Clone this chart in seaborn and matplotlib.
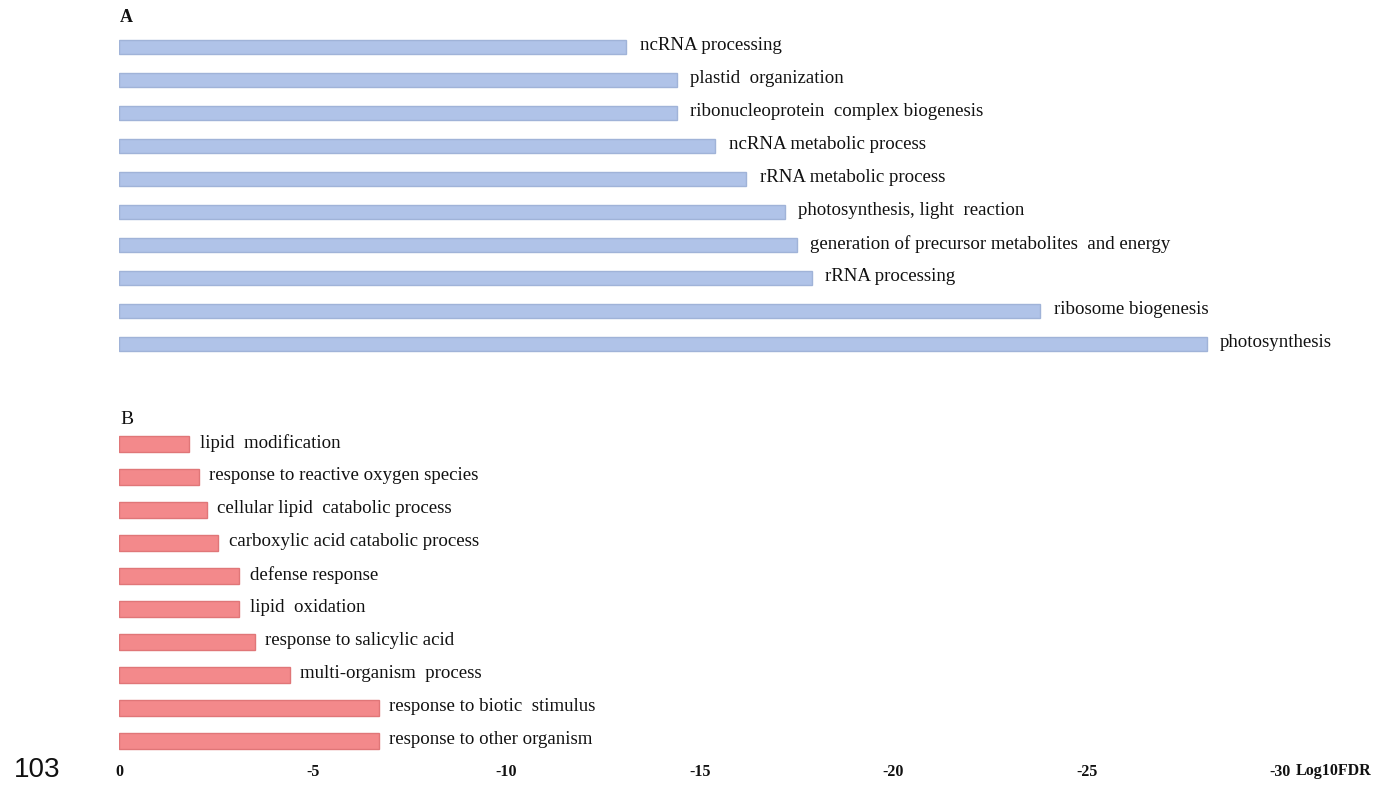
import matplotlib
matplotlib.use("Agg")
import matplotlib.pyplot as plt
import seaborn as sns
import pandas as pd
from matplotlib.ticker import FixedLocator, FixedFormatter

# Panel A: enriched GO terms (log10 FDR)
terms_a = [
    "ncRNA processing",
    "plastid  organization",
    "ribonucleoprotein  complex biogenesis",
    "ncRNA metabolic process",
    "rRNA metabolic process",
    "photosynthesis, light  reaction",
    "generation of precursor metabolites  and energy",
    "rRNA processing",
    "ribosome biogenesis",
    "photosynthesis",
]
fdr_a = [-13.1, -14.4, -14.4, -15.4, -16.2, -17.2, -17.5, -17.9, -23.8, -28.1]

# Panel B: enriched GO terms (log10 FDR)
terms_b = [
    "lipid  modification",
    "response to reactive oxygen species",
    "cellular lipid  catabolic process",
    "carboxylic acid catabolic process",
    "defense response",
    "lipid  oxidation",
    "response to salicylic acid",
    "multi-organism  process",
    "response to biotic  stimulus",
    "response to other organism",
]
fdr_b = [-1.8, -2.05, -2.25, -2.55, -3.1, -3.1, -3.5, -4.4, -6.7, -6.7]

tick_values = [0, -5, -10, -15, -20, -25, -30]
tick_labels = ["0", "-5", "-10", "-15", "-20", "-25", "-30"]

sns.set_theme(style="white")
plt.rcParams["font.family"] = ["Liberation Serif", "DejaVu Serif"]

fig = plt.figure(figsize=(13.81, 7.85), dpi=100)
ax_a = fig.add_axes([0.0865, 0.5408, 0.8687, 0.4204])
ax_b = fig.add_axes([0.0865, 0.0350, 0.8687, 0.4204])

df_a = pd.DataFrame({"term": terms_a, "fdr": fdr_a})
df_b = pd.DataFrame({"term": terms_b, "fdr": fdr_b})

sns.barplot(data=df_a, x="fdr", y="term", orient="h", ax=ax_a,
            color="#B0C3E8", saturation=1, width=0.40,
            edgecolor="#A0B3D8", linewidth=1.0)
sns.barplot(data=df_b, x="fdr", y="term", orient="h", ax=ax_b,
            color="#F3898B", saturation=1, width=0.48,
            edgecolor="#E07678", linewidth=1.0)

for ax, terms, vals, off in ((ax_a, terms_a, fdr_a, 9.5), (ax_b, terms_b, fdr_b, 7.5)):
    ax.set_xlim(0, -31)
    ax.set_ylim(9.5, -0.5)
    for i, (t, v) in enumerate(zip(terms, vals)):
        ax.annotate(t, xy=(v, i), xytext=(off, 1), textcoords="offset points",
                    ha="left", va="center", fontsize=13.6, color="#111111")
    ax.set_xlabel("")
    ax.set_ylabel("")
    ax.set_yticks([])
    for s in ax.spines.values():
        s.set_visible(False)

ax_a.set_xticks([])
ax_b.xaxis.set_major_locator(FixedLocator(tick_values))
ax_b.xaxis.set_major_formatter(FixedFormatter(tick_labels))
ax_b.tick_params(axis="x", length=0, pad=5, labelsize=11.5, labelcolor="#111111")
for lbl in ax_b.get_xticklabels():
    lbl.set_fontweight("bold")

fig.text(1296 / 1381, 1 - 771 / 785, "Log10FDR", fontsize=11.5, fontweight="bold",
         ha="left", va="center", color="#111111")
fig.text(120 / 1381, 1 - 17 / 785, "A", fontsize=13, fontweight="bold",
         ha="left", va="center", color="#111111")
fig.text(120 / 1381, 1 - 420 / 785, "B", fontsize=14, ha="left", va="center",
         color="#111111")
fig.text(14 / 1381, 1 - 770 / 785, "103", fontsize=20, ha="left", va="center",
         color="#111111", family=["Liberation Sans", "DejaVu Sans"])

fig.savefig("out.png", dpi=100)
